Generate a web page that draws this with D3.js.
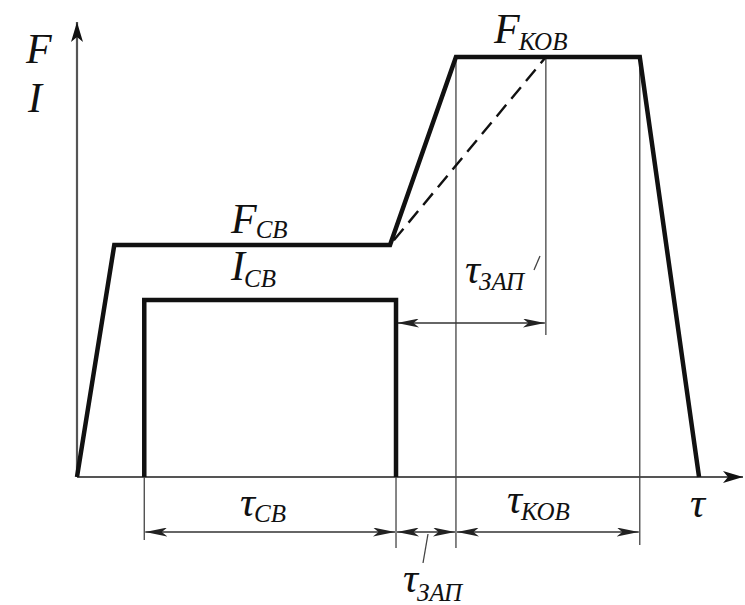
<!DOCTYPE html>
<html>
<head>
<meta charset="utf-8">
<script src="https://cdn.jsdelivr.net/npm/d3@7"></script>
<style>
  html, body { margin: 0; padding: 0; background: #fff; }
  svg { display: block; }
</style>
</head>
<body>
<svg id="chart" width="745" height="605"></svg>
<script>
// Welding cycle: electrode force F and welding current I versus time τ (relative units)
const forceTimes  = [0, 5.6, 47.0, 56.9, 84.5, 93.4];
const forceValues = [0, 51.0, 51.0, 92.3, 92.3, 0];
const currentTimes  = [10.1, 10.1, 47.9, 47.9];
const currentValues = [0, 38.9, 38.9, 0];
// slower alternative force rise (dashed)
const slowRiseTimes  = [47.0, 70.4];
const slowRiseValues = [51.0, 92.3];
// interval boundaries and names
const intervalNames  = ["СВ", "ЗАП", "КОВ"];
const intervalStarts = [10.1, 47.9, 56.9];
const intervalEnds   = [47.9, 56.9, 84.5];
const delayUpperStart = 47.9, delayUpperEnd = 70.4;

const svg = d3.select("#chart");
const x = d3.scaleLinear().domain([0, 100]).range([77, 743]);
const y = d3.scaleLinear().domain([0, 100]).range([477, 22]);

// arrow markers
const defs = svg.append("defs");
function marker(id, len, half, color) {
  defs.append("marker").attr("id", id)
    .attr("viewBox", `0 ${-half} ${len} ${half * 2}`)
    .attr("refX", len).attr("refY", 0)
    .attr("markerUnits", "userSpaceOnUse")
    .attr("markerWidth", len).attr("markerHeight", half * 2)
    .attr("orient", "auto-start-reverse")
    .append("path")
    .attr("d", `M0,${-half}L${len},0L0,${half}L${len * 0.25},0Z`)
    .attr("fill", color);
}
marker("axisArrow", 20, 6, "#111");
marker("dimArrow", 22, 4.5, "#222");

const ink = "#111";
const thin = "#444";

// axes
svg.append("line").attr("x1", x(0)).attr("y1", y(0)).attr("x2", x(0)).attr("y2", y(100))
  .attr("stroke", "#555").attr("stroke-width", 2.2).attr("marker-end", "url(#axisArrow)");
svg.append("line").attr("x1", x(0)).attr("y1", y(0)).attr("x2", x(100)).attr("y2", y(0))
  .attr("stroke", "#555").attr("stroke-width", 2.2).attr("marker-end", "url(#axisArrow)");

// extension lines
const dimY = 532, dimYUpper = 323;
const ext = [
  [intervalStarts[0], y(0), 540],
  [intervalEnds[0], y(currentValues[1]), 548],
  [intervalEnds[1], y(forceValues[3]), 548],
  [intervalEnds[2], y(forceValues[4]), 545],
  [delayUpperEnd, y(slowRiseValues[1]) + 2, 335]
];
svg.selectAll("line.ext").data(ext).join("line").attr("class", "ext")
  .attr("x1", d => x(d[0])).attr("x2", d => x(d[0]))
  .attr("y1", d => d[1]).attr("y2", d => d[2])
  .attr("stroke", thin).attr("stroke-width", 1.3);

// dimension lines
const dims = intervalStarts.map((s, i) => [s, intervalEnds[i], dimY]);
dims.push([delayUpperStart, delayUpperEnd, dimYUpper]);
svg.selectAll("line.dim").data(dims).join("line").attr("class", "dim")
  .attr("x1", d => x(d[0]) + 1).attr("x2", d => x(d[1]) - 1)
  .attr("y1", d => d[2]).attr("y2", d => d[2])
  .attr("stroke", "#333").attr("stroke-width", 1.3)
  .attr("marker-start", "url(#dimArrow)").attr("marker-end", "url(#dimArrow)");

// dashed slow rise
const line = d3.line().x(d => x(d[0])).y(d => y(d[1]));
svg.append("path").datum(slowRiseTimes.map((t, i) => [t, slowRiseValues[i]]))
  .attr("d", line).attr("fill", "none").attr("stroke", ink)
  .attr("stroke-width", 2.4).attr("stroke-dasharray", "15,8").attr("stroke-dashoffset", -6);

// force curve
svg.append("path").datum(forceTimes.map((t, i) => [t, forceValues[i]]))
  .attr("d", line).attr("fill", "none").attr("stroke", ink)
  .attr("stroke-width", 4.5).attr("stroke-linejoin", "miter");

// current pulse
svg.append("path").datum(currentTimes.map((t, i) => [t, currentValues[i]]))
  .attr("d", line).attr("fill", "none").attr("stroke", ink)
  .attr("stroke-width", 4.5).attr("stroke-linejoin", "miter");

// leader ticks for the delay labels
svg.append("line").attr("x1", 428).attr("y1", 534).attr("x2", 423).attr("y2", 563)
  .attr("stroke", thin).attr("stroke-width", 1.3);
svg.append("line").attr("x1", 534).attr("y1", 270).attr("x2", 540).attr("y2", 256)
  .attr("stroke", thin).attr("stroke-width", 1.3);

// labels: main symbol + subscript, Times-like italic
const serif = "'Liberation Serif', 'Times New Roman', Times, serif";
function label(px, py, main, sub, subDy) {
  const t = svg.append("text").attr("x", px).attr("y", py)
    .attr("font-family", serif).attr("font-style", "italic").attr("fill", "#111");
  t.append("tspan").attr("font-size", 42).text(main);
  if (sub) t.append("tspan").attr("font-size", 25).attr("dx", -1).attr("dy", subDy).text(sub);
}
label(26, 63, "F");
label(28, 112, "I");
label(494, 43, "F", "КОВ", 7);
label(231, 233, "F", intervalNames[0], 5);
label(231, 280, "I", intervalNames[0], 7);
label(240, 516, "τ", intervalNames[0], 6);
label(507, 513, "τ", intervalNames[2], 7);
label(403, 592, "τ", intervalNames[1], 9);
label(465, 283, "τ", intervalNames[1], 7);
label(690, 517, "τ");
</script>
</body>
</html>
